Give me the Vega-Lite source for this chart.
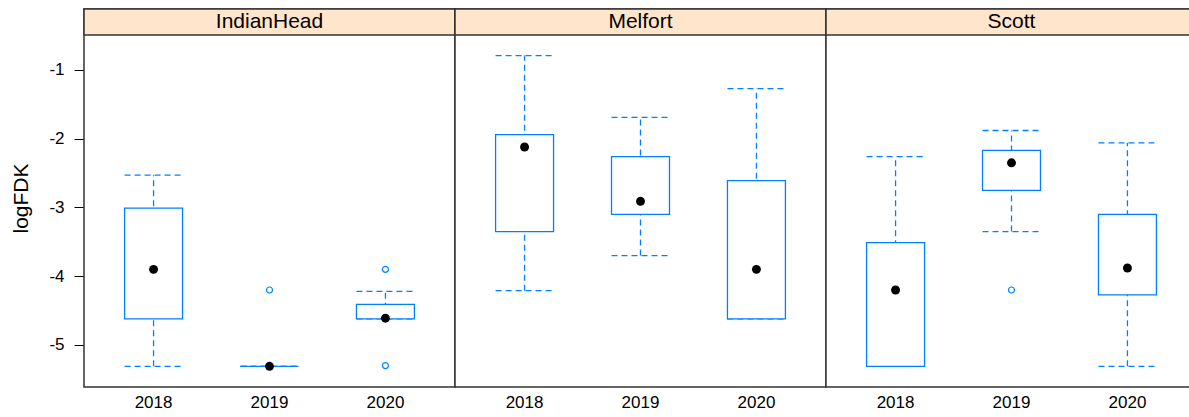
{
  "$schema": "https://vega.github.io/schema/vega-lite/v6.json",
  "padding": {"left": 10, "top": 7, "right": 0, "bottom": 0},
  "background": "white",
  "config": {
    "font": "Liberation Sans",
    "view": {"stroke": "#333333", "strokeWidth": 1.5, "fill": "white"},
    "facet": {"spacing": 0}
  },
  "data": {
    "values": [
      {"site": "IndianHead", "year": "2018", "kind": "box", "lower": -5.31, "q1": -4.62, "median": -3.90, "q3": -3.01, "upper": -2.53},
      {"site": "IndianHead", "year": "2019", "kind": "box", "lower": -5.31, "q1": -5.31, "median": -5.31, "q3": -5.31, "upper": -5.31},
      {"site": "IndianHead", "year": "2020", "kind": "box", "lower": -4.62, "q1": -4.62, "median": -4.61, "q3": -4.41, "upper": -4.22},
      {"site": "Melfort", "year": "2018", "kind": "box", "lower": -4.21, "q1": -3.35, "median": -2.12, "q3": -1.94, "upper": -0.79},
      {"site": "Melfort", "year": "2019", "kind": "box", "lower": -3.70, "q1": -3.10, "median": -2.91, "q3": -2.26, "upper": -1.69},
      {"site": "Melfort", "year": "2020", "kind": "box", "lower": -4.62, "q1": -4.62, "median": -3.90, "q3": -2.61, "upper": -1.27},
      {"site": "Scott", "year": "2018", "kind": "box", "lower": -5.31, "q1": -5.31, "median": -4.20, "q3": -3.51, "upper": -2.26},
      {"site": "Scott", "year": "2019", "kind": "box", "lower": -3.35, "q1": -2.75, "median": -2.35, "q3": -2.17, "upper": -1.88},
      {"site": "Scott", "year": "2020", "kind": "box", "lower": -5.31, "q1": -4.27, "median": -3.88, "q3": -3.10, "upper": -2.06},
      {"site": "IndianHead", "year": "2019", "kind": "out", "value": -4.20},
      {"site": "IndianHead", "year": "2020", "kind": "out", "value": -3.90},
      {"site": "IndianHead", "year": "2020", "kind": "out", "value": -5.30},
      {"site": "Scott", "year": "2019", "kind": "out", "value": -4.20}
    ]
  },
  "facet": {
    "column": {"field": "site", "type": "nominal", "header": {"labels": false, "title": null}}
  },
  "spacing": {"column": 0, "row": 0},
  "bounds": "flush",
  "spec": {
    "width": 371,
    "height": 378,
    "layer": [
      {
        "transform": [{"filter": "datum.kind === 'box' && datum.year === '2018'"}],
        "mark": {"type": "rect", "fill": "#FFE5CC", "stroke": "#333333", "strokeWidth": 1.5},
        "encoding": {
          "y": {
            "datum": -0.491, "type": "quantitative",
            "scale": {"domain": [-5.611, -0.113], "nice": false, "zero": false},
            "title": "logFDK",
            "axis": {
              "values": [-5, -4, -3, -2, -1], "labelExpr": "'' + datum.value", "domain": false, "grid": false,
              "tickSize": 10, "tickColor": "black", "tickWidth": 1,
              "labelFontSize": 17, "labelColor": "black", "labelPadding": 10,
              "titleFontSize": 21, "titleFontWeight": "normal", "titleColor": "black", "titlePadding": 17
            }
          },
          "y2": {"datum": -0.113}
        }
      },
      {
        "transform": [{"filter": "datum.kind === 'box'"}],
        "mark": {"type": "rule", "stroke": "#0080ff", "strokeWidth": 1.3, "strokeDash": [6, 4]},
        "encoding": {
          "x": {
            "field": "year", "type": "nominal", "title": null,
            "scale": {"paddingInner": 0.5, "paddingOuter": 0.35},
            "axis": {"domain": false, "ticks": false, "tickSize": 0, "labelFontSize": 17, "labelColor": "black", "labelPadding": 7, "labelAngle": 0}
          },
          "y": {"field": "lower", "type": "quantitative", "title": "logFDK"},
          "y2": {"field": "upper"}
        }
      },
      {
        "transform": [{"filter": "datum.kind === 'box'"}],
        "mark": {"type": "rule", "stroke": "#0080ff", "strokeWidth": 1.3, "strokeDash": [6, 4]},
        "encoding": {
          "x": {"field": "year", "type": "nominal", "bandPosition": 0},
          "x2": {"field": "year", "bandPosition": 1},
          "y": {"field": "upper", "type": "quantitative", "title": "logFDK"}
        }
      },
      {
        "transform": [{"filter": "datum.kind === 'box'"}],
        "mark": {"type": "rule", "stroke": "#0080ff", "strokeWidth": 1.3, "strokeDash": [6, 4]},
        "encoding": {
          "x": {"field": "year", "type": "nominal", "bandPosition": 0},
          "x2": {"field": "year", "bandPosition": 1},
          "y": {"field": "lower", "type": "quantitative", "title": "logFDK"}
        }
      },
      {
        "transform": [{"filter": "datum.kind === 'box'"}],
        "mark": {"type": "bar", "fill": "white", "stroke": "#0080ff", "strokeWidth": 1.3},
        "encoding": {
          "x": {"field": "year", "type": "nominal"},
          "y": {"field": "q1", "type": "quantitative", "title": "logFDK"},
          "y2": {"field": "q3"}
        }
      },
      {
        "transform": [{"filter": "datum.kind === 'box'"}],
        "mark": {"type": "point", "shape": "circle", "filled": true, "color": "black", "size": 80, "opacity": 1},
        "encoding": {
          "x": {"field": "year", "type": "nominal"},
          "y": {"field": "median", "type": "quantitative", "title": "logFDK"}
        }
      },
      {
        "transform": [{"filter": "datum.kind === 'out'"}],
        "mark": {"type": "point", "shape": "circle", "filled": false, "stroke": "#0080ff", "strokeWidth": 1.2, "size": 36, "opacity": 1},
        "encoding": {
          "x": {"field": "year", "type": "nominal"},
          "y": {"field": "value", "type": "quantitative", "title": "logFDK"}
        }
      },
      {
        "transform": [{"filter": "datum.kind === 'box' && datum.year === '2018'"}],
        "mark": {"type": "text", "fontSize": 21, "color": "black", "baseline": "middle", "align": "center"},
        "encoding": {
          "text": {"field": "site"},
          "y": {"datum": -0.302, "type": "quantitative"}
        }
      }
    ]
  }
}
